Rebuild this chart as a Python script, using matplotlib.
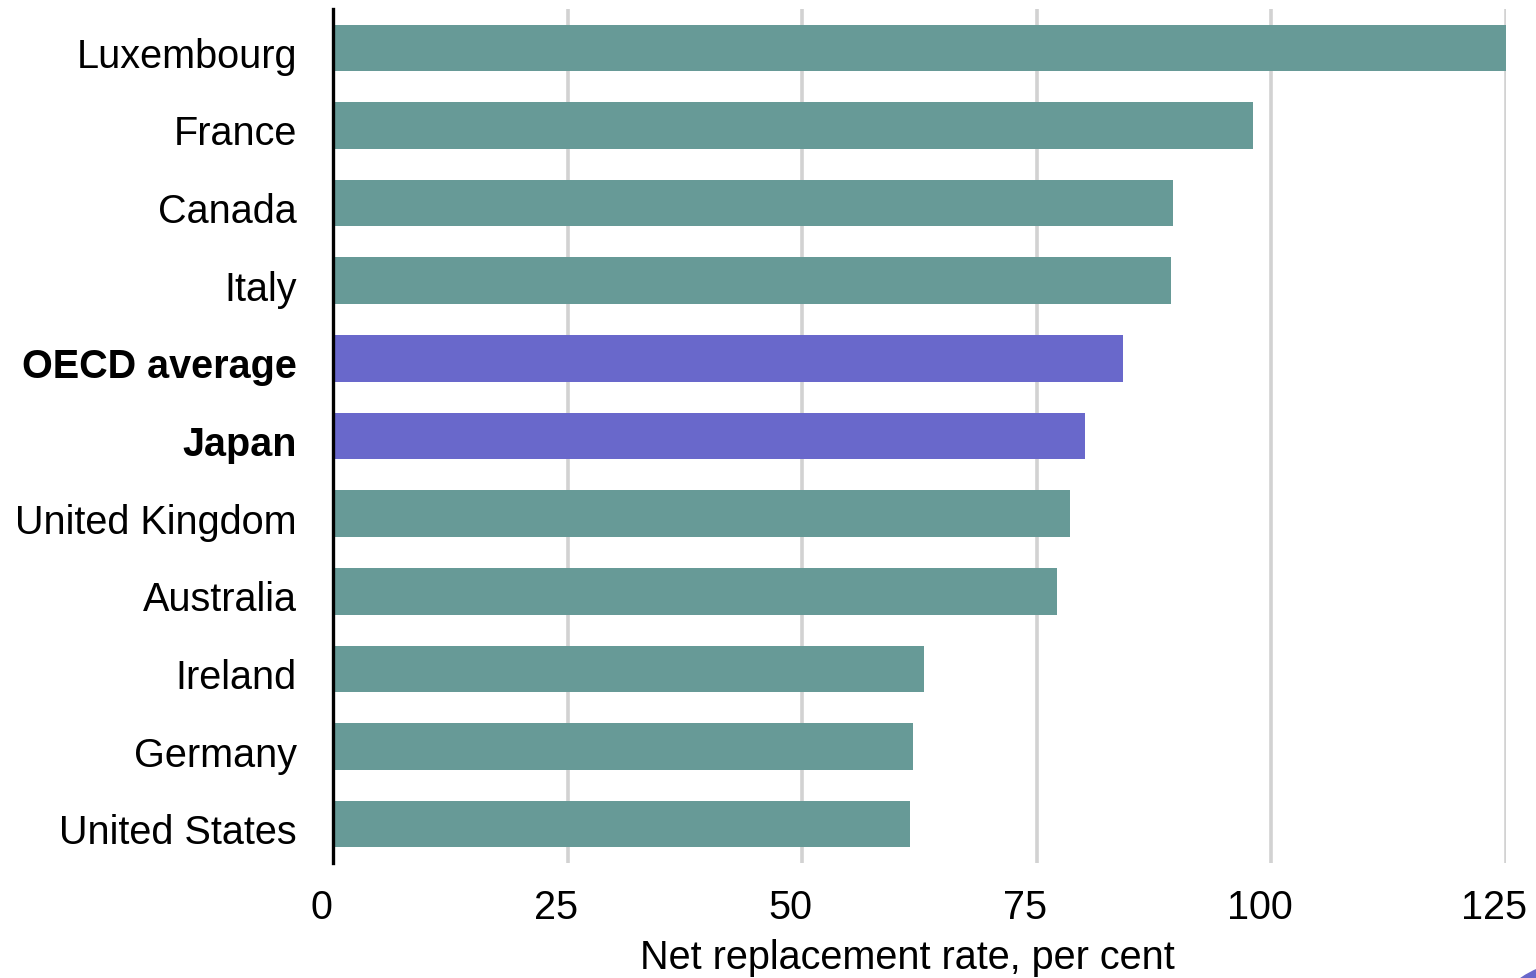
import matplotlib.pyplot as plt
import matplotlib.transforms as mtransforms
from matplotlib.patches import Circle

countries = ["Luxembourg", "France", "Canada", "Italy", "OECD average", "Japan",
             "United Kingdom", "Australia", "Ireland", "Germany", "United States"]
rates = [125.0, 98.0, 89.5, 89.3, 84.2, 80.1, 78.5, 77.2, 63.0, 61.8, 61.5]
highlight = ["OECD average", "Japan"]
xticks = [0, 25, 50, 75, 100, 125]

TEAL = "#679a97"
PURPLE = "#6968cb"

plt.rcParams["font.family"] = ["Liberation Sans", "DejaVu Sans"]

fig = plt.figure(figsize=(15.36, 9.79), dpi=100)
ax = fig.add_axes([333 / 1536, 1 - 864 / 979, (1506 - 333) / 1536, (864 - 10) / 979])

ypos = list(range(len(countries)))
colors = [PURPLE if c in highlight else TEAL for c in countries]
ax.barh(ypos, rates, height=0.6, color=colors, zorder=2)

ax.set_ylim(len(countries) - 0.5, -0.5)
ax.set_xlim(0, 125)

ax.set_xticks(xticks)
ax.set_xticklabels([str(t) for t in xticks], fontsize=28.5)
ax.set_yticks(ypos)
ax.set_yticklabels(countries, fontsize=28.5)
for lbl in ax.get_yticklabels():
    if lbl.get_text() in highlight:
        lbl.set_fontweight("bold")

ax.tick_params(axis="x", length=0, pad=18)
ax.tick_params(axis="y", length=0, pad=26)
# x tick labels sit a bit left of their gridlines, y labels a touch low
xshift = mtransforms.ScaledTranslation(-12 / 100, 0, fig.dpi_scale_trans)
for lbl in ax.get_xticklabels():
    lbl.set_transform(lbl.get_transform() + xshift)
yshift = mtransforms.ScaledTranslation(0, -4 / 100, fig.dpi_scale_trans)
for lbl in ax.get_yticklabels():
    lbl.set_transform(lbl.get_transform() + yshift)

ax.grid(axis="x", color="#d2d2d2", linewidth=2.6, zorder=0)
ax.set_axisbelow(True)
for side in ["top", "right", "bottom"]:
    ax.spines[side].set_visible(False)
ax.spines["left"].set_color("black")
ax.spines["left"].set_linewidth(2.4)
ax.spines["left"].set_zorder(3)

fig.text(907 / 1536, 1 - 958 / 979, "Net replacement rate, per cent",
         fontsize=28.5, ha="center", va="center")

# small decorative disc peeking in at the lower right corner
fig.patches.append(Circle((1577, -83), 100, transform=None, color=PURPLE,
                          figure=fig))

fig.savefig("out.png", dpi=100)
